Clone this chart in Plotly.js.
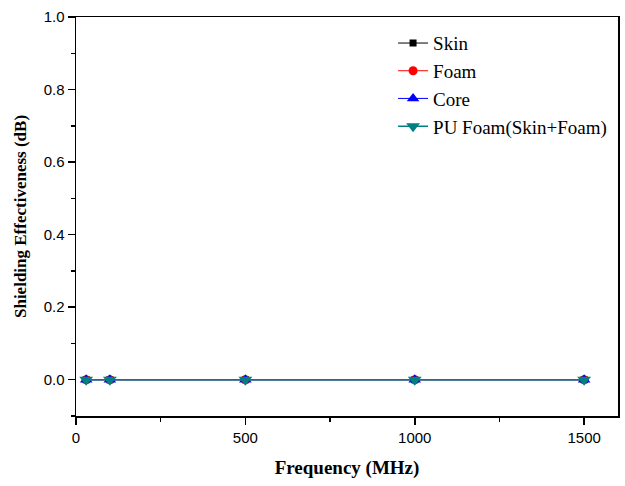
<!DOCTYPE html>
<html>
<head>
<meta charset="utf-8">
<script src="https://cdn.plot.ly/plotly-3.0.1.min.js"></script>
<style>html,body{margin:0;padding:0;background:#fff;}#chart{width:625px;height:486px;}</style>
</head>
<body>
<div id="chart"></div>
<script>
const frequency = [30, 100, 500, 1000, 1500];
const skin = [0, 0, 0, 0, 0];
const foam = [0, 0, 0, 0, 0];
const core = [0, 0, 0, 0, 0];
const puFoam = [0, 0, 0, 0, 0];
const seriesNames = ['Skin', 'Foam', 'Core', 'PU Foam(Skin+Foam)'];

const styles = [
  {color: '#000000', symbol: 'square', size: 7, width: 1},
  {color: '#ff0000', symbol: 'circle', size: 9, width: 1},
  {color: '#0000ff', symbol: 'triangle-up', size: 11, width: 1},
  {color: '#008080', symbol: 'triangle-down', size: 12, width: 1.5}
];
const values = [skin, foam, core, puFoam];
const traces = values.map((v, i) => ({
  x: frequency, y: v, name: seriesNames[i], type: 'scatter', mode: 'lines+markers',
  line: {color: styles[i].color, width: styles[i].width},
  marker: {color: styles[i].color, symbol: styles[i].symbol, size: styles[i].size, line: {width: 0}}
}));

const axisCommon = {
  showline: true, linecolor: '#000', linewidth: 1.5, mirror: true,
  ticks: 'outside', ticklen: 7, tickwidth: 1.5, tickcolor: '#000',
  showgrid: false, zeroline: false,
  tickfont: {family: 'Liberation Sans, Arial, sans-serif', size: 15, color: '#000'}
};

const layout = {
  width: 625, height: 486,
  margin: {l: 76, r: 7, t: 17, b: 70},
  paper_bgcolor: '#fff', plot_bgcolor: '#fff',
  showlegend: true,
  legend: {x: 0.585, y: 0.982, xanchor: 'left', yanchor: 'top', bgcolor: 'rgba(0,0,0,0)',
    font: {family: 'Liberation Serif, Times New Roman, serif', size: 19, color: '#000'},
    tracegroupgap: 0, itemsizing: 'trace'},
  xaxis: Object.assign({}, axisCommon, {
    range: [0, 1600], tickmode: 'linear', tick0: 0, dtick: 500,
    minor: {tick0: 0, dtick: 250, ticks: 'outside', ticklen: 4, tickwidth: 1.5, tickcolor: '#000', showgrid: false},
    title: {text: '<b>Frequency (MHz)</b>', standoff: 16,
      font: {family: 'Liberation Serif, Times New Roman, serif', size: 19, color: '#000'}}
  }),
  yaxis: Object.assign({}, axisCommon, {
    range: [-0.1, 1.0], tickmode: 'linear', tick0: 0, dtick: 0.2, tickformat: '.1f',
    minor: {tick0: 0, dtick: 0.1, ticks: 'outside', ticklen: 4, tickwidth: 1.5, tickcolor: '#000', showgrid: false},
    title: {text: '<b>Shielding Effectiveness (dB)</b>', standoff: 12,
      font: {family: 'Liberation Serif, Times New Roman, serif', size: 17, color: '#000'}}
  })
};

Plotly.newPlot('chart', traces, layout, {displayModeBar: false, staticPlot: true});
</script>
</body>
</html>
